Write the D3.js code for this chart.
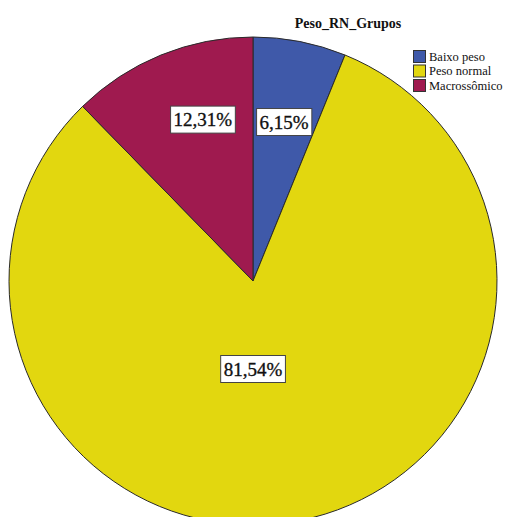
<!DOCTYPE html>
<html>
<head>
<meta charset="utf-8">
<script src="https://cdn.jsdelivr.net/npm/d3@7"></script>
<style>
  html, body { margin: 0; padding: 0; background: #fff; }
  svg { display: block; }
  svg text { font-family: "Liberation Serif", "Times New Roman", Tinos, serif; }
</style>
</head>
<body>
<svg id="chart" width="512" height="517"></svg>
<script>
// Birth-weight groups (counts, n = 65)
const categories = ["Baixo peso", "Peso normal", "Macrossômico"];
const counts = [4, 53, 8];
const colors = ["#3f59a9", "#e2d70f", "#9f1a4f"];
const chartTitle = "Peso_RN_Grupos";

const svg = d3.select("#chart");
const cx = 253, cy = 281, R = 244;

const total = d3.sum(counts);
const fmt = v => (v / total * 100).toFixed(2).replace(".", ",") + "%";

const pie = d3.pie().sort(null).value(d => d)
  .startAngle(0).endAngle(2 * Math.PI);
const arcs = pie(counts);
const arc = d3.arc().innerRadius(0).outerRadius(R);

const g = svg.append("g").attr("transform", `translate(${cx},${cy})`);

g.selectAll("path.slice")
  .data(arcs)
  .join("path")
  .attr("class", "slice")
  .attr("d", arc)
  .attr("fill", (d, i) => colors[i])
  .attr("stroke", "#2a2a2a")
  .attr("stroke-width", 1)
  .attr("stroke-linejoin", "round");

// Label placement: radius along the slice direction, with an angular nudge
// so the boxes sit clear of each other near the top.
const labelLayout = [
  { r: 162, nudge: 0 },
  { r: 88, nudge: 11.1 },
  { r: 169, nudge: 4.9 }
];

const labels = g.selectAll("g.lbl")
  .data(arcs)
  .join("g")
  .attr("class", "lbl")
  .attr("transform", (d, i) => {
    const a = (d.startAngle + d.endAngle) / 2 + labelLayout[i].nudge * Math.PI / 180;
    const r = labelLayout[i].r;
    return `translate(${r * Math.sin(a)},${-r * Math.cos(a)})`;
  });

labels.each(function(d) {
  const sel = d3.select(this);
  const t = sel.append("text")
    .attr("text-anchor", "middle")
    .attr("dy", "0.35em")
    .attr("font-size", 19)
    .attr("fill", "#111")
    .attr("stroke", "#111")
    .attr("stroke-width", 0.35)
    .text(fmt(d.data));
  const bb = t.node().getBBox();
  sel.insert("rect", "text")
    .attr("x", bb.x - 3)
    .attr("y", -13.5)
    .attr("width", bb.width + 6)
    .attr("height", 27)
    .attr("fill", "#fff")
    .attr("stroke", "#444")
    .attr("stroke-width", 1);
});

// Title
svg.append("text")
  .attr("x", 348)
  .attr("y", 28)
  .attr("text-anchor", "middle")
  .attr("font-weight", "bold")
  .attr("font-size", 14)
  .attr("fill", "#111")
  .text(chartTitle);

// Legend
const legend = svg.append("g").attr("transform", "translate(413,50)");
const rows = legend.selectAll("g")
  .data(categories)
  .join("g")
  .attr("transform", (d, i) => `translate(0,${i * 14.5})`);
rows.append("rect")
  .attr("x", 0.5).attr("y", 0.5)
  .attr("width", 12).attr("height", 12)
  .attr("fill", (d, i) => colors[i])
  .attr("stroke", "#333")
  .attr("stroke-width", 1);
rows.append("text")
  .attr("x", 16)
  .attr("y", 10.5)
  .attr("font-size", 12.5)
  .attr("fill", "#111")
  .text(d => d);
</script>
</body>
</html>
